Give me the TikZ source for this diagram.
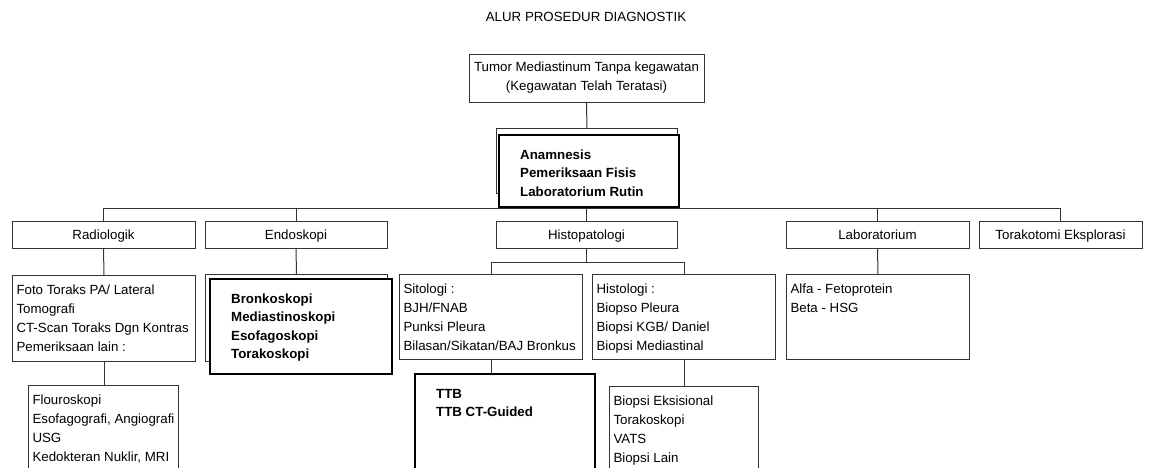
\documentclass[tikz,border=0pt]{standalone}
\usepackage{fontspec}
\setmainfont{Liberation Sans}

\newcommand{\cell}[3]{\parbox[t][#2][t]{#1}{\begin{tabular}[t]{@{}l@{}}#3\end{tabular}}}

\begin{document}
\begin{tikzpicture}[x=1pt, y=-1pt,
  every node/.style={font=\fontsize{13.3}{19}\selectfont},
  thinbox/.style={draw=black!80, line width=1pt},
  headbox/.style={thinbox, minimum height=27pt, inner sep=0pt, text height=11pt, text depth=1pt},
  listbox/.style={thinbox, anchor=north west, inner xsep=4pt, inner ysep=6pt},
  boldbox/.style={draw=black, line width=2.4pt, anchor=north west, inner xsep=21pt, inner ysep=11pt, font=\fontsize{13.3}{18.5}\selectfont\bfseries},
  backbox/.style={thinbox, anchor=north west, inner sep=0pt},
  link/.style={draw=black!80, line width=1pt}]

\path[use as bounding box] (0,0) rectangle (1163,467);
\clip (0,0) rectangle (1163,467);

\node (title) at (586,17) {ALUR PROSEDUR DIAGNOSTIK};
\node[thinbox, minimum width=235pt, minimum height=48pt, align=center, inner sep=0pt] (tumor) at (586.5,78) {Tumor Mediastinum Tanpa kegawatan\\(Kegawatan Telah Teratasi)};

\node[backbox, minimum width=181pt, minimum height=65pt] (anamback) at (496,128) {};
\node[boldbox, fill=white] (anam) at (498,134) {\cell{138pt}{50pt}{Anamnesis\\Pemeriksaan Fisis\\Laboratorium Rutin}};
\draw[link] (tumor.south) -- (anamback.north);

% second row
\foreach \nm/\x/\w/\txt in {rad/103.5/183/Radiologik, endo/296/182/Endoskopi, histo/586.5/181/Histopatologi, lab/877.5/183/Laboratorium, tora/1060.5/163/Torakotomi Eksplorasi}{
  \node[headbox, minimum width=\w pt] (\nm) at (\x,234.5) {\txt};
  \draw[link] (\nm.north) -- (\nm.north |- anam.south);
}
\draw[link] (rad.north |- anam.south) -- (tora.north |- anam.south);

% radiologik
\node[listbox] (raddet) at (12,275) {\cell{175pt}{74pt}{Foto Toraks PA/ Lateral\\Tomografi\\CT-Scan Toraks Dgn Kontras\\Pemeriksaan lain :}};
\node[listbox] (flouro) at (28,385) {\cell{142pt}{83pt}{Flouroskopi\\Esofagografi, Angiografi\\USG\\Kedokteran Nuklir, MRI}};
\draw[link] (rad.south) -- (raddet.north);
\draw[link] (raddet.south) -- (raddet.south |- flouro.north);

% endoskopi
\node[backbox, minimum width=182pt, minimum height=87pt] (endoback) at (205,274) {};
\node[boldbox, fill=white] (endodet) at (209,278) {\cell{140pt}{73pt}{Bronkoskopi\\Mediastinoskopi\\Esofagoskopi\\Torakoskopi}};
\draw[link] (endo.south) -- (endoback.north);

% histopatologi
\node[listbox] (sito) at (399,274) {\cell{175pt}{73pt}{Sitologi :\\BJH/FNAB\\Punksi Pleura\\Bilasan/Sikatan/BAJ Bronkus}};
\node[listbox] (histol) at (592,274) {\cell{175pt}{73pt}{Histologi :\\Biopso Pleura\\Biopsi KGB/ Daniel\\Biopsi Mediastinal}};
\node[boldbox] (ttb) at (414,373) {\cell{138pt}{85pt}{TTB\\TTB CT-Guided}};
\node[listbox] (biopsi) at (609,386) {\cell{141pt}{82pt}{Biopsi Eksisional\\Torakoskopi\\VATS\\Biopsi Lain}};
\draw[link] (histo.south) -- ++(0,14) coordinate (split);
\draw[link] (sito.north) |- (split) -| (histol.north);
\draw[link] (sito.south) -- (sito.south |- ttb.north);
\draw[link] (histol.south) -- (biopsi.north);

% laboratorium
\node[listbox] (labdet) at (786,274) {\cell{175pt}{73pt}{Alfa - Fetoprotein\\Beta - HSG}};
\draw[link] (lab.south) -- (labdet.north);

\end{tikzpicture}
\end{document}
